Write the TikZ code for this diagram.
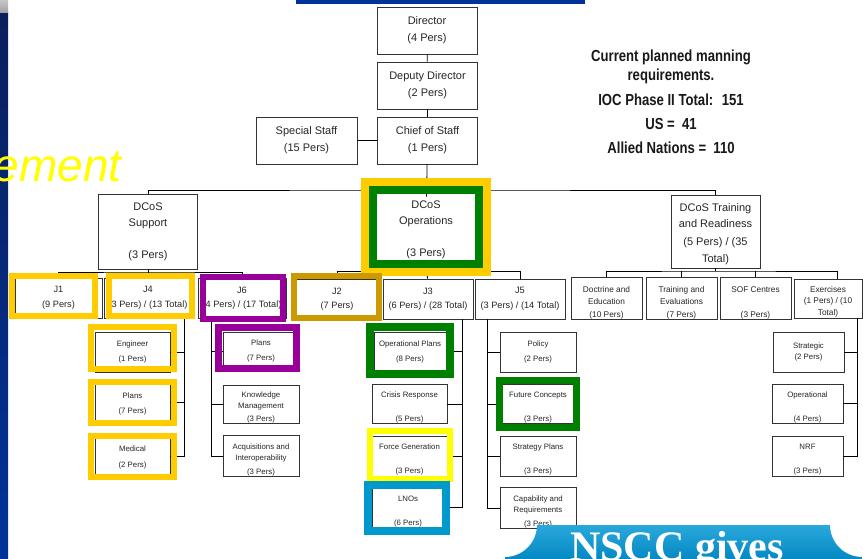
\documentclass[tikz,border=0pt]{standalone}
\usepackage{fontspec}
\setmainfont{Liberation Sans}
\newfontfamily\infofont{Liberation Sans}[FakeStretch=0.82]
\newfontfamily\bannerfont{Liberation Serif}
\usetikzlibrary{calc}

\definecolor{frmgold}{HTML}{FFCC00}
\definecolor{frmdark}{HTML}{CC9900}
\definecolor{frmyellow}{HTML}{FFFF00}
\definecolor{frmgreen}{HTML}{008000}
\definecolor{frmpurple}{HTML}{990099}
\definecolor{frmblue}{HTML}{0099CC}
\definecolor{stripnavy}{HTML}{0B1F5C}
\definecolor{stripblue}{HTML}{003399}
\definecolor{bannertop}{HTML}{2AA8DC}
\definecolor{bannerbot}{HTML}{0489C3}
\definecolor{boxline}{HTML}{333333}

% taller first line, pushes the text block down in its box
\newcommand{\lowr}[1]{\rule{0pt}{#1}}

\begin{document}
\begin{tikzpicture}[x=1pt,y=-1pt,
        box/.style={draw=boxline,line width=0.8pt,fill=white,inner sep=0pt,align=center,text=black!85},
        topbox/.style={box,minimum width=100,minimum height=47,font=\fontsize{11}{17}\selectfont},
        jbox/.style={box,minimum height=40,font=\fontsize{9.2}{14.5}\selectfont},
        tbox/.style={box,minimum width=71,minimum height=39,font=\fontsize{8.3}{11.5}\selectfont},
        subbox/.style={box,minimum width=75,minimum height=40,font=\fontsize{7.8}{11.5}\selectfont},
        hilite/.style={line width=6pt},
        link/.style={line width=0.8pt}]
        \useasboundingbox (0,0) rectangle (863,559);
        \clip (0,0) rectangle (863,559);

        % slide background
        \fill[white] (0,0) rectangle (863,559);
        \shade[top color=stripnavy,bottom color=stripblue] (0,13) rectangle (8,559);
        \shade[top color=gray!45,bottom color=gray!75] (0,0) rectangle (8,13);
        \fill[stripblue] (296,0) rectangle (585,4);
        \node[font=\itshape\fontsize{46}{46}\selectfont,text=frmyellow,anchor=base east,inner sep=0pt] (mgmt) at (122,182) {ement};

        \node[font=\infofont\bfseries\fontsize{16}{19}\selectfont,align=center,text=black!90] (info) at (671,102)
            {Current planned manning\\requirements.\\[6pt]IOC Phase II Total:~ 151\\[5pt]US =~ 41\\[5pt]Allied Nations =~ 110};

        % command group
        \node[topbox] (director) at (427,30.5) {Director\\(4 Pers)};
        \node[topbox] (deputy) at (427.5,85.5) {Deputy Director\\(2 Pers)};
        \node[topbox] (chief) at (427.5,140.5) {Chief of Staff\\(1 Pers)};
        \node[topbox,minimum width=101] (special) at (306.5,140.5) {Special Staff\\(15 Pers)};

        \node[topbox,minimum width=99,minimum height=75,font=\fontsize{11}{16}\selectfont] (support) at (148,231.5) {DCoS\\Support\\[16pt](3 Pers)};
        \node[topbox,draw=none,minimum height=66,font=\fontsize{11}{16}\selectfont] (ops) at (426,230) {DCoS\\Operations\\[16pt](3 Pers)};
        \node[topbox,minimum width=89,minimum height=73,font=\fontsize{11}{16.5}\selectfont] (training) at (715.5,231.5) {\lowr{13pt}DCoS Training\\and Readiness\\[1.5pt](5 Pers) / (35\\Total)};

        % J branches
        \node[jbox,minimum width=87] (j1) at (58.5,298) {J1\\(9 Pers)};
        \node[jbox,minimum width=88] (j4) at (148,298) {J4\\(3 Pers) / (13 Total)};
        \node[jbox,minimum width=88] (j6) at (242,298) {J6\\(4 Pers) / (17 Total)};
        \node[jbox,minimum width=88] (j2) at (337,299) {J2\\(7 Pers)};
        \node[jbox,minimum width=90] (j3) at (428,299) {J3\\(6 Pers) / (28 Total)};
        \node[jbox,minimum width=90] (j5) at (520,299) {J5\\(3 Pers) / (14 Total)};

        \node[tbox] (doctrine) at (606.5,298.5) {\lowr{15pt}Doctrine and\\Education\\[1.5pt](10 Pers)};
        \node[tbox] (evaluations) at (681.5,298.5) {\lowr{15pt}Training and\\Evaluations\\[1.5pt](7 Pers)};
        \node[tbox] (sof) at (755.5,298.5) {\lowr{15pt}SOF Centres\\[13pt](3 Pers)};
        \node[tbox,minimum width=68] (exercises) at (828,298.5) {\lowr{12.5pt}Exercises\\(1 Pers) / (10\\Total)};

        % sections
        \node[subbox] (engineer) at (132.5,352) {Engineer\\[3.5pt](1 Pers)};
        \node[subbox,minimum height=36] (plansfour) at (132.5,402) {\lowr{9pt}Plans\\[3.5pt](7 Pers)};
        \node[subbox,minimum height=36] (medical) at (132.5,456) {\lowr{9pt}Medical\\[4.5pt](2 Pers)};

        \node[subbox,minimum width=76,minimum height=38] (planssix) at (261,351) {Plans\\[3.5pt](7 Pers)};
        \node[subbox,minimum width=76,minimum height=38] (knowledge) at (261,404) {\lowr{12.5pt}Knowledge\\Management\\[1pt](3 Pers)};
        \node[subbox,minimum width=76] (acquisitions) at (261,456) {\lowr{13.5pt}Acquisitions and\\Interoperability\\[2.5pt](3 Pers)};

        \node[subbox,minimum width=72,minimum height=39] (opplans) at (410,351.5) {Operational Plans\\[3.5pt](8 Pers)};
        \node[subbox,minimum height=38] (crisis) at (409.5,404) {\lowr{13.5pt}Crisis Response\\[12.5pt](5 Pers)};
        \node[subbox] (forcegen) at (409.5,456) {\lowr{13.5pt}Force Generation\\[12.5pt](3 Pers)};
        \node[subbox,minimum width=72,minimum height=41] (lnos) at (408,507.5) {\lowr{13pt}LNOs\\[12.5pt](6 Pers)};

        \node[subbox,minimum width=76] (policy) at (538,352) {Policy\\[3.5pt](2 Pers)};
        \node[subbox,minimum width=76,minimum height=38] (future) at (538,404) {\lowr{13.5pt}Future Concepts\\[12.5pt](3 Pers)};
        \node[subbox,minimum width=76] (strategy) at (538,456) {\lowr{13.5pt}Strategy Plans\\[12.5pt](3 Pers)};
        \node[subbox,minimum width=76] (capability) at (538,508) {\lowr{14pt}Capability and\\Requirements\\[2.5pt](3 Pers)};

        \node[subbox,minimum width=71] (strategic) at (808.5,352) {Strategic\\(2 Pers)};
        \node[subbox,minimum width=71,minimum height=39] (operational) at (807.5,403.5) {\lowr{13.5pt}Operational\\[12.5pt](4 Pers)};
        \node[subbox,minimum width=71] (nrf) at (807.5,456) {\lowr{13.5pt}NRF\\[12.5pt](3 Pers)};

        % lines
        \draw[link] (director) -- (deputy);
        \draw[link] (deputy) -- (chief);
        \draw[link] (chief) -- (special);
        \draw[link] (chief) -- (ops);

        \coordinate (topbus) at (427.5,190);
        \draw[link] (support.north) |- (topbus) -| (training.north);

        \coordinate (supbus) at (148,272);
        \draw[link] (support) -- (j4);
        \draw[link] (j1.north) |- (supbus) -| (j6.north);

        \coordinate (opsbus) at (428,271);
        \draw[link] (ops) -- (j3);
        \draw[link] (j2.north) |- (opsbus) -| (j5.north);

        \coordinate (trbus) at (715.5,271);
        \draw[link] (training) -- (trbus);
        \draw[link] (doctrine.north) |- (trbus) -| ([xshift=9pt]exercises.north);
        \foreach \n in {evaluations,sof}
            \draw[link] (\n.north) -- (\n.north |- trbus);

        \coordinate (jfourbus) at ($(j4.south)+(36,0)$);
        \draw[link] (jfourbus) |- (medical.east);
        \foreach \n in {engineer,plansfour}
            \draw[link] (\n.east) -- (\n.east -| jfourbus);

        \coordinate (jsixbus) at ($(j6.south)+(-31,0)$);
        \draw[link] (jsixbus) |- (acquisitions.west);
        \foreach \n in {planssix,knowledge}
            \draw[link] (\n.west) -- (\n.west -| jsixbus);

        \coordinate (jthreebus) at ($(j3.south)+(34,0)$);
        \draw[link] (jthreebus) |- (lnos.east);
        \foreach \n in {opplans,crisis,forcegen}
            \draw[link] (\n.east) -- (\n.east -| jthreebus);

        \coordinate (jfivebus) at ($(j5.south)+(-33,0)$);
        \draw[link] (jfivebus) |- (capability.west);
        \foreach \n in {policy,future,strategy}
            \draw[link] (\n.west) -- (\n.west -| jfivebus);

        \coordinate (exbus) at ($(exercises.south)+(29,0)$);
        \draw[link] (exbus) |- (nrf.east);
        \foreach \n in {strategic,operational}
            \draw[link] (\n.east) -- (\n.east -| exbus);

        % highlight frames
        \draw[hilite,line width=8pt,frmgold] (365,182) rectangle (487,272);
        \draw[hilite,line width=8pt,frmgreen] (373,190) rectangle (479,264);
        \draw[hilite,frmgold] (12,276) rectangle (95,316);
        \draw[hilite,frmgold] (109,276) rectangle (192,316);
        \draw[hilite,frmpurple] (203,277) rectangle (283,319);
        \draw[hilite,frmdark] (294,276) rectangle (379,318);
        \draw[hilite,frmgold] (91,327) rectangle (174,369);
        \draw[hilite,frmgold] (91,382) rectangle (174,423);
        \draw[hilite,frmgold] (91,436) rectangle (174,477);
        \draw[hilite,line width=7pt,frmpurple] (218.5,327.5) rectangle (296.5,368.5);
        \draw[hilite,line width=8pt,frmgreen] (370,327) rectangle (450,374);
        \draw[hilite,frmyellow] (370,431) rectangle (450,479);
        \draw[hilite,line width=8pt,frmblue] (368,485) rectangle (446,531);
        \draw[hilite,line width=7pt,frmgreen] (499.5,380.5) rectangle (576.5,427.5);

        % banner
        \shade[top color=bannertop,bottom color=bannerbot] (505,559) -- (505,557)
            arc[start angle=90,end angle=0,radius=32] -- (830,525)
            arc[start angle=180,end angle=90,radius=32] -- (862,559) -- cycle;
        \node[font=\bannerfont\bfseries\fontsize{42}{42}\selectfont,text=white,anchor=base west,inner sep=0pt] (nscc) at (570,560) {NSCC gives};

    \end{tikzpicture}
\end{document}
